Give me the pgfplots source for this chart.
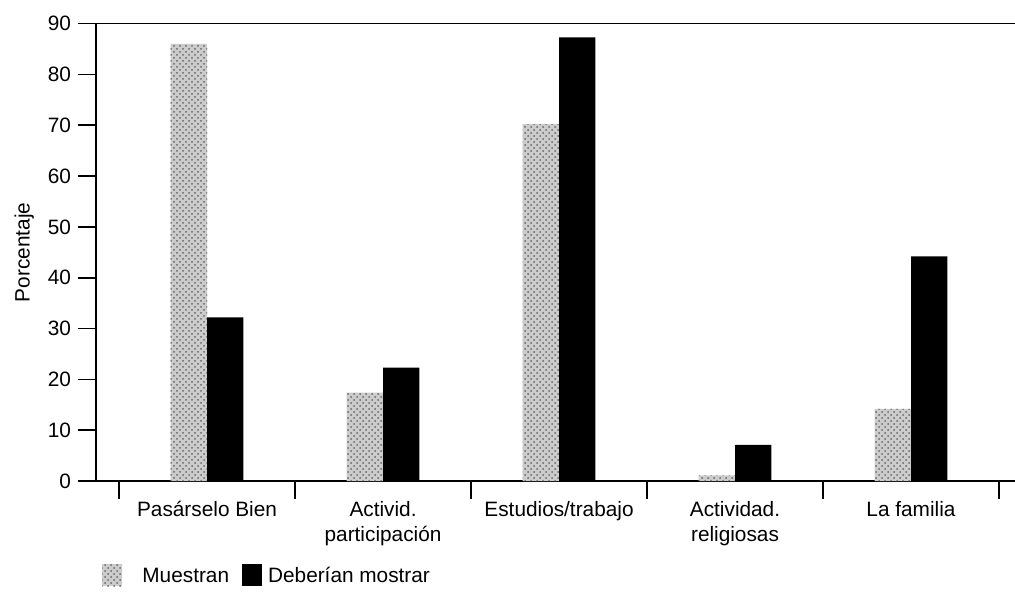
\documentclass[border=0pt]{standalone}
\usepackage{fontspec}
\setmainfont{Liberation Sans}
\usepackage{pgfplots}
\usepackage{pgfplotstable}
\pgfplotsset{compat=1.18}
\usetikzlibrary{patterns}

\pgfplotstableread{
x muestran deberian
0 86.0 32.2
1 17.4 22.3
2 70.2 87.3
3 1.1 7.1
4 14.2 44.2
}\datatable

\begin{document}
\begin{tikzpicture}[font=\fontsize{10.4}{12.5}\selectfont]
\path[use as bounding box] (-48pt,-58.5pt) rectangle (459.5pt,240.5pt);
\begin{axis}[
  at={(0,0)}, anchor=south west,
  scale only axis, width=459.5pt, height=228.7pt,
  xmin=-0.631, xmax=4.591, ymin=0, ymax=90,
  axis x line*=bottom, axis y line*=left,
  axis line style={line width=0.8pt},
  ytick={0,10,...,90},
  xtick={-0.5,0.5,...,4.5},
  x tick label as interval,
  xticklabels={Pasárselo Bien, {Activid.\\participación}, Estudios/trabajo, {Actividad.\\religiosas}, La familia},
  xticklabel style={align=center, yshift=2.5pt, font=\fontsize{10.4}{12.8}\selectfont},
  yticklabel style={font=\fontsize{10.4}{12.5}\selectfont},
  /pgf/number format/assume math mode=true,
  tick align=outside,
  major tick length=9pt,
  tick style={black, line width=0.8pt},
  ylabel={Porcentaje},
  ylabel style={at={(axis description cs:-0.078,0.5)}, anchor=center},
  legend style={draw=none, fill=none, legend columns=2,
    at={(axis description cs:0,0)}, anchor=west, xshift=0pt, yshift=-47pt,
    /tikz/every even column/.append style={column sep=3.5pt},
    nodes={text height=1.7ex, text depth=0.3ex, inner xsep=3pt},
    font=\fontsize{10.4}{12.5}\selectfont},
  legend image code/.code={\draw[#1, draw=none] (0pt,-5.5pt) rectangle (10pt,5.5pt);},
]
\addplot[ybar, bar width=0.207, bar shift=-0.1035, fill=black!20, draw=none,
  postaction={pattern=crosshatch dots, pattern color=black!60}]
  table[x=x,y=muestran]{\datatable};
\addlegendentry{\hspace{7pt}Muestran}
\addplot[ybar, bar width=0.207, bar shift=0.1035, fill=black, draw=none]
  table[x=x,y=deberian]{\datatable};
\addlegendentry{Deberían mostrar}
\draw[line width=0.8pt] (rel axis cs:0,1) -- (rel axis cs:1,1);
\end{axis}
\end{tikzpicture}
\end{document}
